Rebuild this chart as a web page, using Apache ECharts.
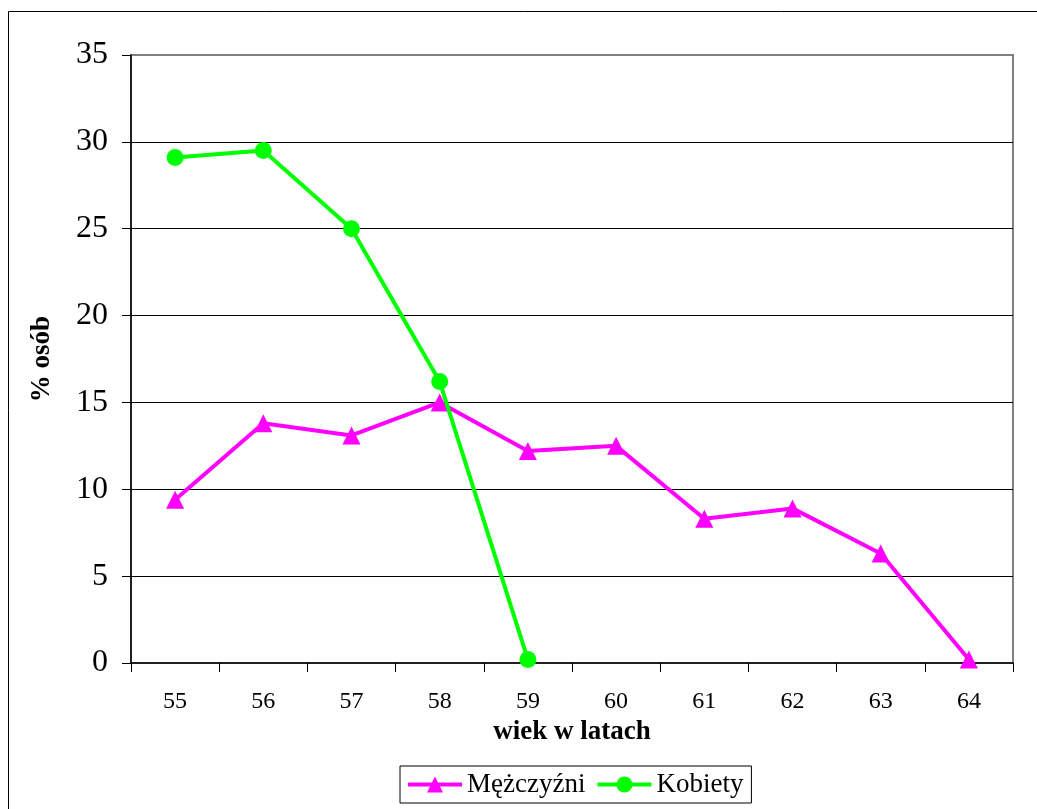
<!doctype html>
<html>
	<head>
		<meta charset="UTF-8">
		<title>wiek w latach</title>
		<script src="https://cdn.jsdelivr.net/npm/echarts@6/dist/echarts.min.js"></script>
		<style>
			html, body {
				margin: 0;
				padding: 0;
				background-color: #FFF;
			}
			#chart {
				width: 1037px;
				height: 809px;
			}
		</style>
	</head>
	<body>
		<div id="chart"></div>
		<script type="text/javascript">
			// dane
			var wiek = ['55', '56', '57', '58', '59', '60', '61', '62', '63', '64'];
			var mezczyzni = [9.4, 13.8, 13.1, 15.0, 12.2, 12.5, 8.3, 8.9, 6.3, 0.2];
			var kobiety = [29.1, 29.5, 25.0, 16.2, 0.2];
			var osY = [0, 5, 10, 15, 20, 25, 30, 35];

			var serif = '"Liberation Serif", "Times New Roman", serif';

			var option = {
				animation: false,
				graphic: [{
					type: 'rect',
					shape: { x: 8.5, y: 11.5, width: 1040, height: 820 },
					style: { fill: 'none', stroke: '#000', lineWidth: 1 },
					silent: true
				}],
				legend: {
					top: 766,
					left: 400,
					data: ['Mężczyźni', 'Kobiety'],
					borderColor: '#000',
					borderWidth: 1,
					padding: [5, 8, 5, 6],
					itemGap: 10,
					itemWidth: 54,
					itemHeight: 20,
					lineStyle: { width: 4 },
					textStyle: {
						fontFamily: serif,
						fontSize: 27,
						color: '#000'
					}
				},
				grid: {
					left: 131,
					right: 24,
					top: 55,
					bottom: 146,
					show: true,
					borderColor: '#808080',
					borderWidth: 2,
					backgroundColor: 'transparent'
				},
				xAxis: {
					type: 'category',
					data: wiek,
					boundaryGap: true,
					name: 'wiek w latach',
					nameLocation: 'middle',
					nameGap: 42,
					nameTextStyle: {
						fontFamily: serif,
						fontSize: 27,
						fontWeight: 'bold',
						color: '#000'
					},
					axisLine: { lineStyle: { color: '#000', width: 1.5 } },
					axisTick: { show: true, length: 9, lineStyle: { color: '#000', width: 1 } },
					axisLabel: {
						margin: 27,
						fontFamily: serif,
						fontSize: 24,
						color: '#000'
					},
					splitLine: { show: false }
				},
				yAxis: {
					type: 'value',
					min: osY[0],
					max: osY[osY.length - 1],
					interval: osY[1] - osY[0],
					name: '% osób',
					nameLocation: 'middle',
					nameGap: 75,
					nameRotate: 90,
					nameTextStyle: {
						fontFamily: serif,
						fontSize: 27,
						fontWeight: 'bold',
						color: '#000'
					},
					axisLine: { show: true, lineStyle: { color: '#000', width: 1.5 } },
					axisTick: { show: true, length: 9, lineStyle: { color: '#000', width: 1 } },
					axisLabel: {
						margin: 23,
						fontFamily: serif,
						fontSize: 32,
						color: '#000'
					},
					splitLine: {
						show: true,
						showMinLine: false,
						showMaxLine: false,
						lineStyle: { color: '#000', width: 1 }
					}
				},
				series: [{
					name: 'Mężczyźni',
					type: 'line',
					data: mezczyzni,
					symbol: 'triangle',
					symbolSize: 18,
					lineStyle: { color: '#FF00FF', width: 4 },
					itemStyle: { color: '#FF00FF' },
					z: 3
				}, {
					name: 'Kobiety',
					type: 'line',
					data: kobiety,
					symbol: 'circle',
					symbolSize: 17,
					lineStyle: { color: '#00FF00', width: 4 },
					itemStyle: { color: '#00FF00' },
					z: 4
				}]
			};

			var myChart = echarts.init(document.getElementById('chart'));
			myChart.setOption(option);
		</script>
	</body>
</html>
